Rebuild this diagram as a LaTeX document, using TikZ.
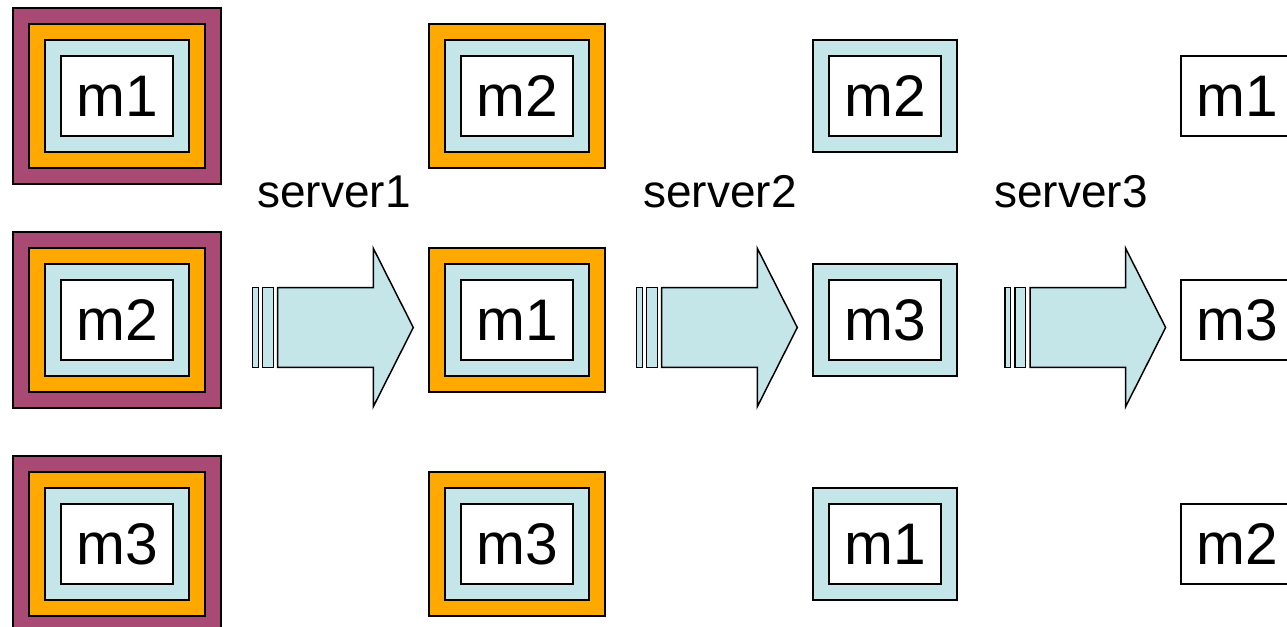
\documentclass[tikz,border=0pt]{standalone}
\usepackage{fontspec}
\setmainfont{Liberation Sans}
\definecolor{plum}{RGB}{168,74,116}
\definecolor{amber}{RGB}{255,168,0}
\definecolor{ice}{RGB}{196,230,232}
\tikzset{
  box/.style={rectangle, draw, line width=1.1pt, inner sep=0pt},
  plumbox/.style={box, fill=plum, minimum width=156pt, minimum height=132pt},
  amberbox/.style={box, fill=amber, minimum width=132pt, minimum height=108pt},
  icebox/.style={box, fill=ice, minimum width=108pt, minimum height=84pt},
  msgbox/.style={box, fill=white, minimum width=84pt, minimum height=60pt, font=\fontsize{44}{50}\selectfont},
  srvlabel/.style={anchor=base, inner sep=0pt, font=\fontsize{34.5}{40}\selectfont},
  stripe/.style={draw, fill=ice, line width=1.1pt, line join=miter}
}
\begin{document}
\begin{tikzpicture}[x=0.75pt, y=-0.75pt]
\useasboundingbox (0,0) rectangle (1287,627);
\clip (0,0) rectangle (1287,627);
% column 1
\node[plumbox] (p1) at (117,96){};
\node[amberbox] (o1) at (117,96){};
\node[icebox] (i1) at (117,96){};
\node[msgbox] (w1) at (117,96){m1};
\node[plumbox] (p2) at (117,320){};
\node[amberbox] (o2) at (117,320){};
\node[icebox] (i2) at (117,320){};
\node[msgbox] (w2) at (117,320){m2};
\node[plumbox] (p3) at (117,544){};
\node[amberbox] (o3) at (117,544){};
\node[icebox] (i3) at (117,544){};
\node[msgbox] (w3) at (117,544){m3};
% column 2
\node[amberbox] (o4) at (517,96){};
\node[icebox] (i4) at (517,96){};
\node[msgbox] (w4) at (517,96){m2};
\node[amberbox] (o5) at (517,320){};
\node[icebox] (i5) at (517,320){};
\node[msgbox] (w5) at (517,320){m1};
\node[amberbox] (o6) at (517,544){};
\node[icebox] (i6) at (517,544){};
\node[msgbox] (w6) at (517,544){m3};
% column 3
\node[icebox] (i7) at (885,96){};
\node[msgbox] (w7) at (885,96){m2};
\node[icebox] (i8) at (885,320){};
\node[msgbox] (w8) at (885,320){m3};
\node[icebox] (i9) at (885,544){};
\node[msgbox] (w9) at (885,544){m1};
% column 4
\node[msgbox] (w10) at (1237,96){m1};
\node[msgbox] (w11) at (1237,320){m3};
\node[msgbox] (w12) at (1237,544){m2};
% servers
\node[srvlabel] (s1) at (334,208){server1};
\node[srvlabel] (s2) at (720,208){server2};
\node[srvlabel] (s3) at (1071,208){server3};
% striped arrows
\coordinate (a1) at (252.7,327.5);
\draw[stripe] (a1) ++(0,-39.8) rectangle ++(5.6,79.6);
\draw[stripe] (a1) ++(10,-39.8) rectangle ++(10.6,79.6);
\draw[stripe] (a1) ++(25,-39.8) -- ++(95.6,0) -- ++(0,-39.4) -- ++(40,79.2) -- ++(-40,79.2) -- ++(0,-39.4) -- ++(-95.6,0) -- cycle;
\coordinate (a2) at (636.7,327.5);
\draw[stripe] (a2) ++(0,-39.8) rectangle ++(5.6,79.6);
\draw[stripe] (a2) ++(10,-39.8) rectangle ++(10.6,79.6);
\draw[stripe] (a2) ++(25,-39.8) -- ++(95.6,0) -- ++(0,-39.4) -- ++(40,79.2) -- ++(-40,79.2) -- ++(0,-39.4) -- ++(-95.6,0) -- cycle;
\coordinate (a3) at (1005,327.5);
\draw[stripe] (a3) ++(0,-39.8) rectangle ++(5.6,79.6);
\draw[stripe] (a3) ++(10,-39.8) rectangle ++(10.6,79.6);
\draw[stripe] (a3) ++(25,-39.8) -- ++(95.6,0) -- ++(0,-39.4) -- ++(40,79.2) -- ++(-40,79.2) -- ++(0,-39.4) -- ++(-95.6,0) -- cycle;
\end{tikzpicture}
\end{document}
